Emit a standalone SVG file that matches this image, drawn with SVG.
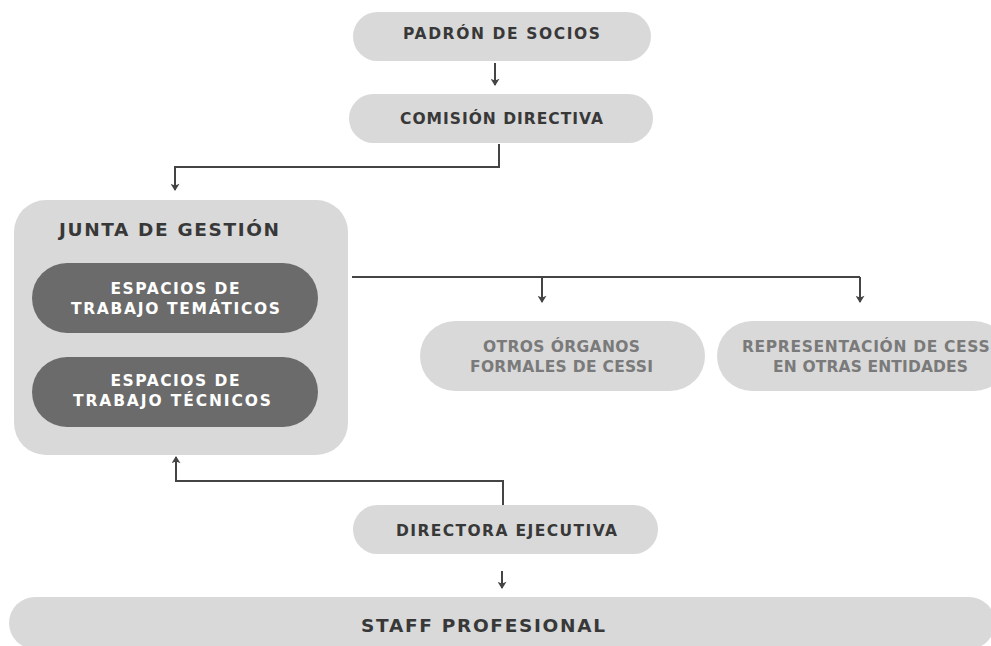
<svg xmlns="http://www.w3.org/2000/svg" width="991" height="646" viewBox="0 0 991 646">
<defs>
<style>
.pill{fill:#d9d9d9;}
.dark{fill:#6b6b6b;}
.t{font-family:"DejaVu Sans","Liberation Sans",sans-serif;font-weight:700;font-size:15.5px;text-anchor:middle;dominant-baseline:central;fill:#383838;}
.big{font-size:18.5px;}
.w{fill:#ffffff;}
.g{fill:#7a7a7a;}
.c{fill:none;stroke:#444444;stroke-width:2;}
</style>
<marker id="ah" viewBox="0 0 10 10" refX="9" refY="5" markerWidth="9" markerHeight="9" markerUnits="userSpaceOnUse" orient="auto">
<path d="M2 0 L10 5 L2 10 L4 5 Z" fill="#444444"/>
</marker>
</defs>
<rect width="991" height="646" fill="#ffffff"/>
<g id="connectors">
<path class="c" d="M495 63 V85" marker-end="url(#ah)"/>
<path class="c" d="M499 144 V167 H175 V190" marker-end="url(#ah)"/>
<path class="c" d="M352 277 H860"/>
<path class="c" d="M542 277 V302" marker-end="url(#ah)"/>
<path class="c" d="M860 277 V302" marker-end="url(#ah)"/>
<path class="c" d="M503 505 V481 H176 V457" marker-end="url(#ah)"/>
<path class="c" d="M502 571 V588" marker-end="url(#ah)"/>
</g>
<g id="padron">
<rect class="pill" x="353" y="12" width="298" height="49" rx="24.5"/>
<text class="t" x="501.5" y="34" textLength="197" lengthAdjust="spacing">PADRÓN DE SOCIOS</text>
</g>
<g id="comision">
<rect class="pill" x="349" y="94" width="304" height="49" rx="24.5"/>
<text class="t" x="501.5" y="119" textLength="203" lengthAdjust="spacing">COMISIÓN DIRECTIVA</text>
</g>
<g id="junta">
<rect class="pill" x="14" y="200" width="334" height="255" rx="32"/>
<text class="t big" x="169" y="229" textLength="220" lengthAdjust="spacing">JUNTA DE GESTIÓN</text>
</g>
<g id="tematicos">
<rect class="dark" x="32" y="263" width="286" height="70" rx="35"/>
<text class="t w" x="175" y="289" textLength="129" lengthAdjust="spacing">ESPACIOS DE</text>
<text class="t w" x="175.5" y="309" textLength="209" lengthAdjust="spacing">TRABAJO TEMÁTICOS</text>
</g>
<g id="tecnicos">
<rect class="dark" x="32" y="357" width="286" height="70" rx="35"/>
<text class="t w" x="175" y="381" textLength="129" lengthAdjust="spacing">ESPACIOS DE</text>
<text class="t w" x="172" y="401" textLength="198" lengthAdjust="spacing">TRABAJO TÉCNICOS</text>
</g>
<g id="otros">
<rect class="pill" x="420" y="321" width="285" height="70" rx="35"/>
<text class="t g" x="561.5" y="347" textLength="157" lengthAdjust="spacing">OTROS ÓRGANOS</text>
<text class="t g" x="561.5" y="367" textLength="183" lengthAdjust="spacing">FORMALES DE CESSI</text>
</g>
<g id="representacion">
<rect class="pill" x="717" y="321" width="292" height="70" rx="35"/>
<text class="t g" x="869" y="347" textLength="254" lengthAdjust="spacing">REPRESENTACIÓN DE CESSI</text>
<text class="t g" x="870.5" y="367" textLength="195" lengthAdjust="spacing">EN OTRAS ENTIDADES</text>
</g>
<g id="directora">
<rect class="pill" x="353" y="505" width="305" height="49" rx="24.5"/>
<text class="t" x="506.5" y="531" textLength="221" lengthAdjust="spacing">DIRECTORA EJECUTIVA</text>
</g>
<g id="staff">
<rect class="pill" x="9" y="597" width="986" height="52" rx="26"/>
<text class="t big" x="483" y="625" textLength="244" lengthAdjust="spacing">STAFF PROFESIONAL</text>
</g>
</svg>
